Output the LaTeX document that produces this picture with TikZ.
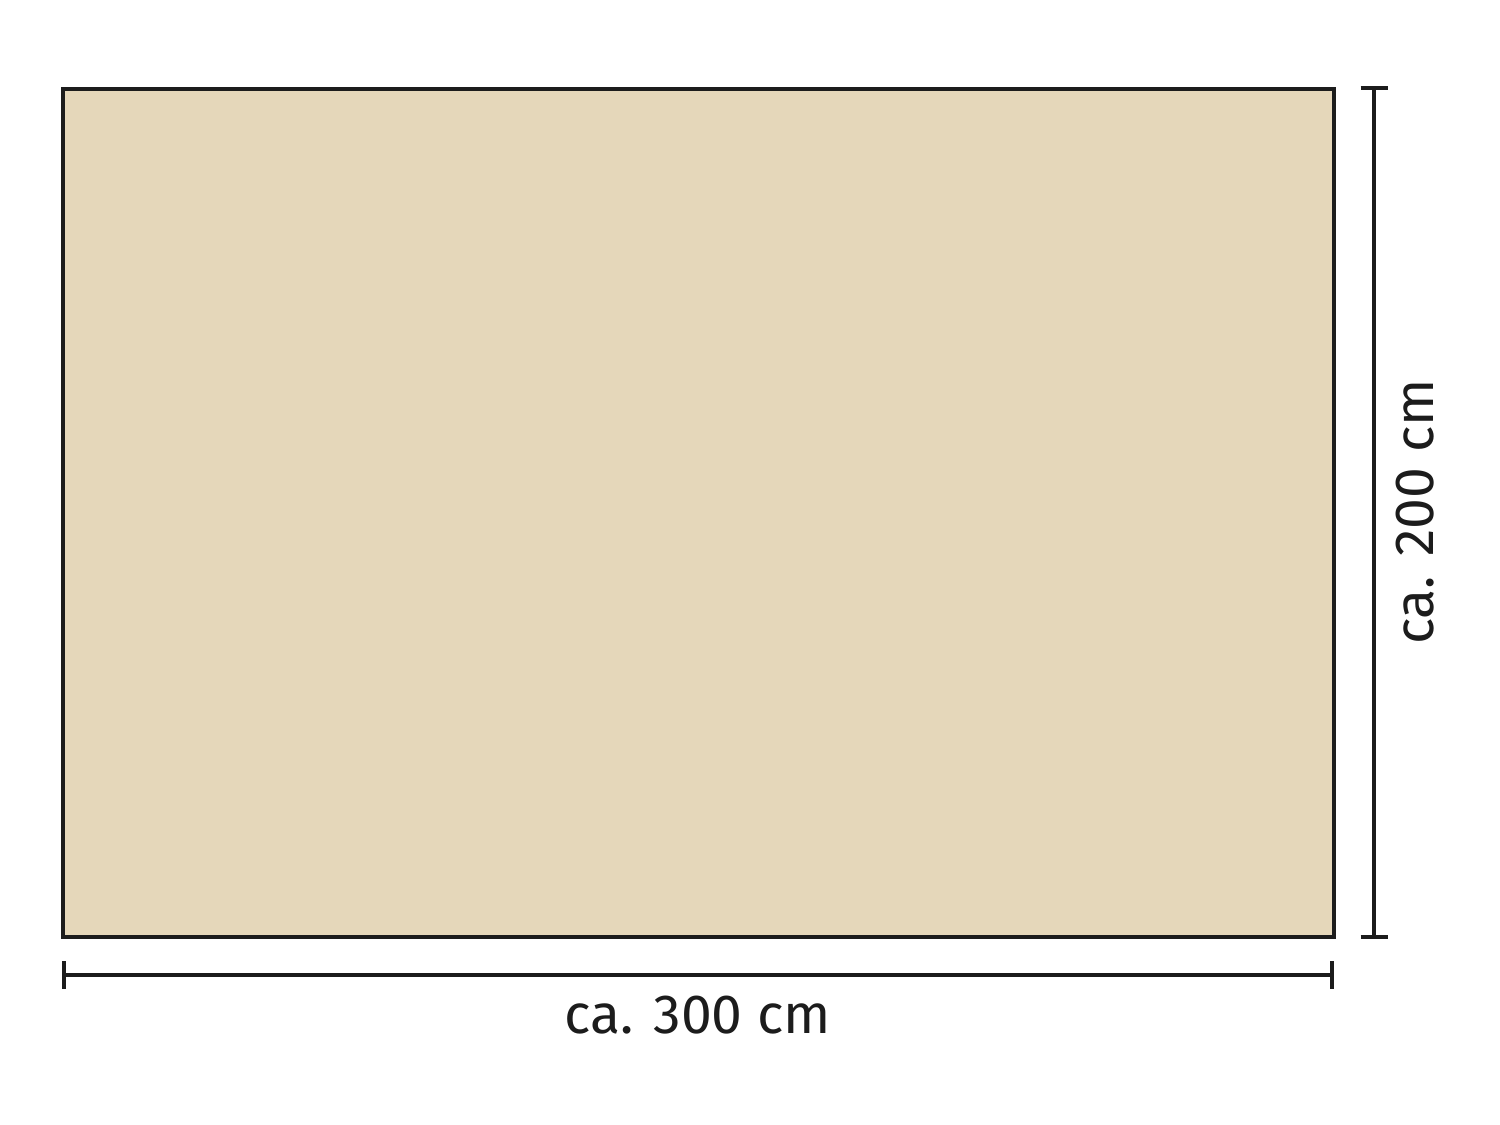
\documentclass[tikz,border=0pt]{standalone}
\usepackage{fontspec}
\setmainfont{Fira Sans}
\definecolor{sand}{HTML}{E5D7BA}
\definecolor{ink}{HTML}{1C1C1C}
\begin{document}
\begin{tikzpicture}[x=0.01cm,y=-0.01cm,
  dimline/.style={draw=ink,line width=1.15pt},
  dimlabel/.style={font=\fontsize{15.7}{17}\selectfont,text=ink,inner sep=0pt}]
\useasboundingbox (0,0) rectangle (1500,1125);
\node[draw=ink,fill=sand,line width=1.15pt,minimum width=12.71cm,minimum height=8.48cm,inner sep=0pt,outer sep=0pt] (panel) at (698.5,513) {};
% horizontal dimension
\coordinate (hl) at (64,975);
\coordinate (hr) at (1332,975);
\draw[dimline] (hl) -- (hr);
\draw[dimline] ([yshift=-0.135cm]hl) -- ([yshift=0.135cm]hl);
\draw[dimline] ([yshift=-0.135cm]hr) -- ([yshift=0.135cm]hr);
\node[dimlabel] (wlab) at (698,1015) {ca. 300 cm};
% vertical dimension
\coordinate (vt) at (1374,88);
\coordinate (vb) at (1374,937);
\draw[dimline] (vt) -- (vb);
\draw[dimline] ([xshift=-0.135cm]vt) -- ([xshift=0.135cm]vt);
\draw[dimline] ([xshift=-0.135cm]vb) -- ([xshift=0.135cm]vb);
\node[dimlabel,rotate=90] (hlab) at (1415,512) {ca. 200 cm};
\end{tikzpicture}
\end{document}
